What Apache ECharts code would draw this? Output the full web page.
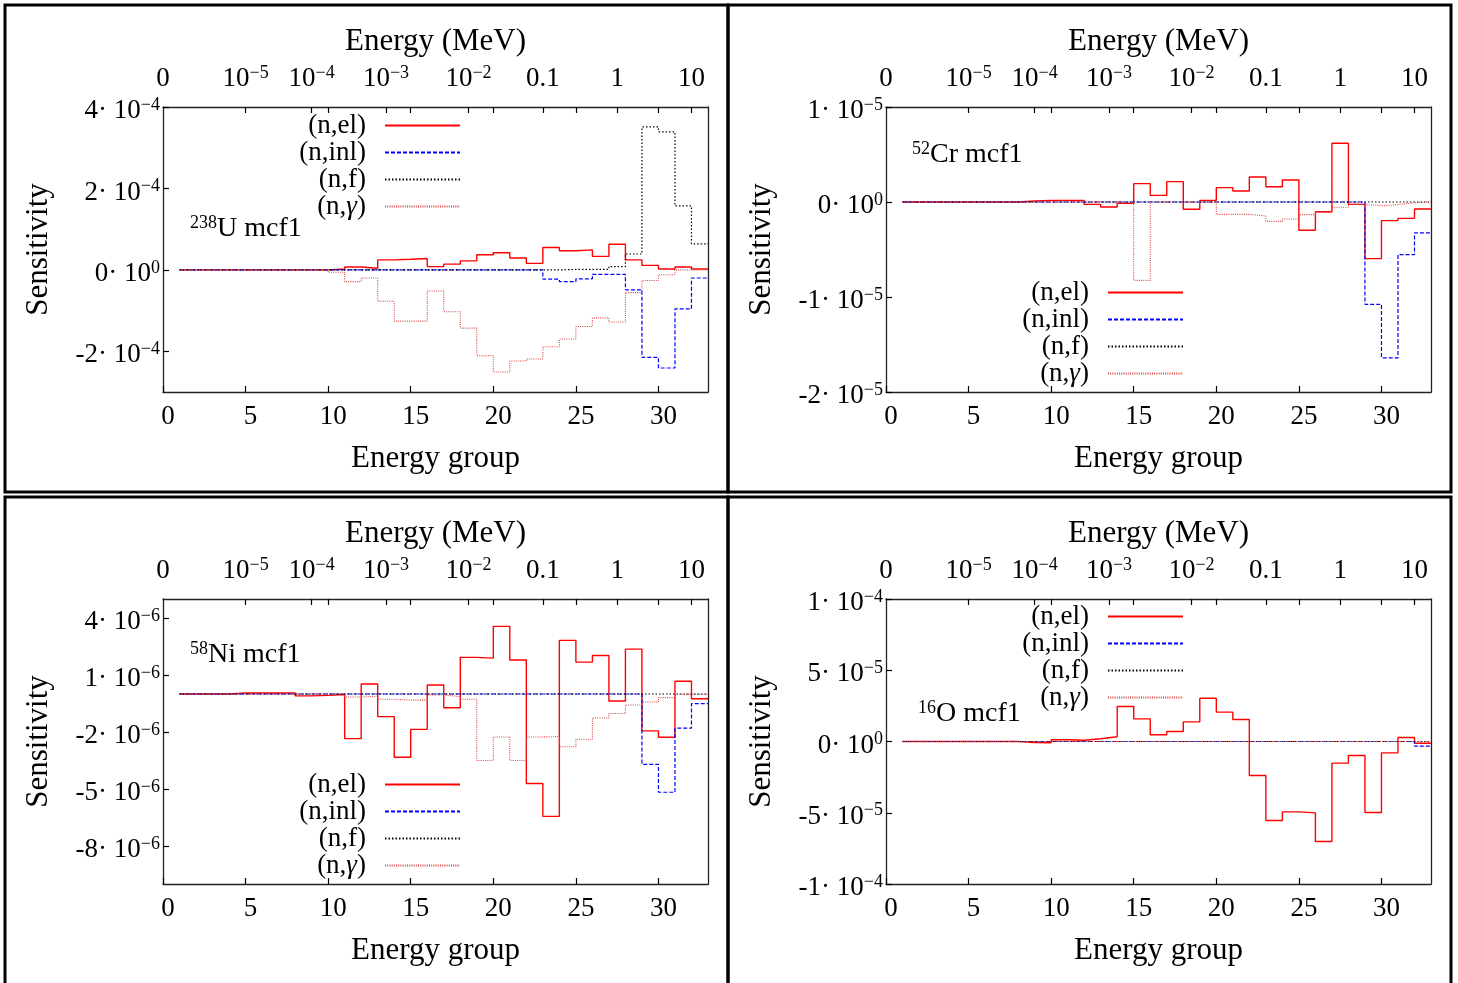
<!DOCTYPE html>
<html><head><meta charset="utf-8">
<script src="https://cdn.jsdelivr.net/npm/echarts@6/dist/echarts.min.js"></script>
<style>html,body{margin:0;padding:0;background:#fff}#c{width:1458px;height:983px}</style>
</head><body><div id="c"></div>
<script>
// energy group boundaries (bin i spans groupEdges[i-1] .. groupEdges[i])
const groupEdges = [1,2,3,4,5,6,7,8,9,10,11,12,13,14,15,16,17,18,19,20,21,22,23,24,25,26,27,28,29,30,31,32,33];
const reactions = ['(n,el)', '(n,inl)', '(n,f)', '(n,γ)'];

// top axis: energy (MeV) tick positions (group coordinate) and labels
const energyTickPos = [0, 5, 9, 13.5, 18.5, 23, 27.5, 32];
const energyTickLabels = ['0', '10^−5', '10^−4', '10^−3', '10^−2', '0.1', '1', '10'];
const groupTickPos = [0, 5, 10, 15, 20, 25, 30];

// 238U, units of 1e-4
const U238_unit = 1e-4;
const U238_el  = [0,0,0,0,0,0,0,0,0, 0.02,0.07,0.04,0.245,0.26,0.28,0.08,0.14,0.22,0.37,0.42,0.29,0.16,0.55,0.47,0.49,0.33,0.63,0.245,0.11,0.02,0.07,0.02];
const U238_inl = [0,0,0,0,0,0,0,0,0,0,0,0,0,0,0,0,0,0,0,0,0,0, -0.23,-0.29,-0.22,-0.11,-0.11,-0.49,-2.15,-2.41,-0.96,-0.20];
const U238_f   = [0,0,0,0,0,0,0,0,0,0,0,0,0,0,0,0,0,0,0,0,0,0,0, 0.01,0.01,0.01, 0.08,0.39,3.51,3.39,1.57,0.64];
const U238_g   = [0,0,0,0,0,0,0,0,0, -0.06,-0.29,-0.20,-0.77,-1.26,-1.26,-0.52,-1.03,-1.43,-2.11,-2.51,-2.24,-2.19,-1.89,-1.70,-1.39,-1.18,-1.28,-0.56,-0.26,-0.12,0,0];

// 52Cr, units of 1e-6
const Cr52_unit = 1e-6;
const Cr52_el  = [0,0,0,0,0,0,0, 0.1, 0.17,0.17,0.17, -0.25,-0.53,-0.14, 1.93,0.70,2.14,-0.77,0.17,1.51,1.16,2.63,1.61,2.32,-2.98,-1.02,6.18,-0.25,-5.96,-1.96,-1.72,-0.74];
const Cr52_inl = [0,0,0,0,0,0,0,0,0,0,0,0,0,0,0,0,0,0,0,0,0,0,0,0,0,0,0,0, -10.77,-16.4,-5.54,-3.26];
const Cr52_f   = [0,0,0,0,0,0,0,0,0,0,0,0,0,0,0,0,0,0,0,0,0,0,0,0,0,0,0,0,0,0,0,0];
const Cr52_g   = [0,0,0,0,0,0,0,0,0,0,0,0,0,0, -8.25, 0,0,0,0, -1.30,-1.30,-1.47,-2.04,-1.79,-1.33,-1.09,-0.56,-0.25,-0.39,-0.28,-0.07,0];

// 58Ni, units of 1e-6
const Ni58_unit = 1e-6;
const Ni58_el  = [0,0,0, 0.05,0.05,0.05,0.05, -0.1,-0.07,-0.03, -2.35,0.53,-1.19,-3.33,-1.86,0.47,-0.72,1.93,1.89,3.56,1.79,-4.71,-6.44,2.82,1.68,2.03,-0.37,2.36,-1.94,-2.28,0.67,-0.25];
const Ni58_inl = [0,0,0,0,0,0,0,0,0,0,0,0,0,0,0,0,0,0,0,0,0,0,0,0,0,0,0,0, -3.70,-5.17,-1.80,-0.51];
const Ni58_f   = [0,0,0,0,0,0,0,0,0,0,0,0,0,0,0,0,0,0,0,0,0,0,0,0,0,0,0,0,0,0,0,0];
const Ni58_g   = [0,0,0,0,0,0,0,0,0,0, -0.16,-0.12,-0.28,-0.32,-0.32,-0.05,-0.14,-0.28,-3.50,-2.26,-3.50,-2.26,-2.24,-2.78,-2.38,-1.26,-1.03,-0.58,-0.42,-0.19,-0.02,-0.02];

// 16O, units of 1e-5
const O16_unit = 1e-5;
const O16_el  = [0,0,0,0,0,0,0, -0.07,-0.09,0.12,0.09,0.19,0.33,2.46,1.59,0.47,0.70,1.38,3.04,2.06,1.54,-2.39,-5.54,-4.94,-5.01,-7.02,-1.52,-0.98,-4.98,-0.80,0.28,-0.12];
const O16_inl = [0,0,0,0,0,0,0,0,0,0,0,0,0,0,0,0,0,0,0,0,0,0,0,0,0,0,0,0,0,0,0, -0.33];
const O16_f   = [0,0,0,0,0,0,0,0,0,0,0,0,0,0,0,0,0,0,0,0,0,0,0,0,0,0,0,0,0,0,0,0];
const O16_g   = [0,0,0,0,0,0,0,0,0,0,0,0,0,0,0,0,0,0,0,0,0,0,0,0,0,0,0,0,0,0,0,-0.05];

const FONT = '"Liberation Serif", "DejaVu Serif", serif';

const panels = [
  { iso: '238', el: 'U', unit: U238_unit, data: [U238_el, U238_inl, U238_f, U238_g],
    yMin: -3e-4, yMax: 4e-4, yTicks: [-2e-4, 0, 2e-4, 4e-4] },
  { iso: '52', el: 'Cr', unit: Cr52_unit, data: [Cr52_el, Cr52_inl, Cr52_f, Cr52_g],
    yMin: -2e-5, yMax: 1e-5, yTicks: [-2e-5, -1e-5, 0, 1e-5] },
  { iso: '58', el: 'Ni', unit: Ni58_unit, data: [Ni58_el, Ni58_inl, Ni58_f, Ni58_g],
    yMin: -1e-5, yMax: 5e-6, yTicks: [-8e-6, -5e-6, -2e-6, 1e-6, 4e-6] },
  { iso: '16', el: 'O', unit: O16_unit, data: [O16_el, O16_inl, O16_f, O16_g],
    yMin: -1e-4, yMax: 1e-4, yTicks: [-1e-4, -5e-5, 0, 5e-5, 1e-4] }
];

// layout
const grids = [
  { left: 163, top: 107, width: 545, height: 285 },
  { left: 886, top: 107, width: 545, height: 285 },
  { left: 163, top: 599, width: 545, height: 285 },
  { left: 886, top: 599, width: 545, height: 285 }
];
const legendPos = [
  { right: 997, top: 112 }, { right: 274, top: 279 },
  { right: 997, top: 771 }, { right: 274, top: 603 }
];
const notePos = [ [190, 229], [912, 155], [190, 655], [918, 714] ];

const lineStyles = [
  { color: '#ff0000', width: 1.4, type: 'solid' },
  { color: '#0000ff', width: 1.2, type: [4, 2] },
  { color: '#000000', width: 1.2, type: [1.5, 2] },
  { color: '#d84848', width: 1.1, type: [1, 1.2] }
];

const rich = {
  m: { fontFamily: FONT, fontSize: 27, lineHeight: 30, color: '#000', verticalAlign: 'middle' },
  e: { fontFamily: FONT, fontSize: 18, lineHeight: 17, color: '#000', verticalAlign: 'top' }
};

function sciLabel(v) {
  if (Math.abs(v) < 1e-15) return '{m|0· 10}{e|0}';
  const ex = Math.floor(Math.log10(Math.abs(v)) + 1e-9);
  const man = Math.round(v / Math.pow(10, ex));
  return '{m|' + man + '· 10}{e|−' + (-ex) + '}';
}
function energyLabel(v) {
  let idx = energyTickPos.findIndex(p => Math.abs(p - v) < 1e-6);
  if (idx < 0) return '';
  const s = energyTickLabels[idx];
  if (s.indexOf('^') >= 0) {
    const parts = s.split('^');
    return '{m|' + parts[0] + '}{e|' + parts[1] + '}';
  }
  return '{m|' + s + '}';
}

const xAxes = [], yAxes = [], series = [], legends = [], graphics = [];
const axisLine = { show: true, onZero: false, lineStyle: { color: '#222', width: 1.3 } };
const nameStyle = { fontFamily: FONT, fontSize: 31, color: '#000' };

panels.forEach((p, i) => {
  xAxes.push({
    type: 'value', gridIndex: i, position: 'bottom', min: 0, max: 33,
    name: 'Energy group', nameLocation: 'middle', nameGap: 51, nameTextStyle: nameStyle,
    axisLine: axisLine,
    axisTick: { show: true, inside: true, length: 6, customValues: groupTickPos, lineStyle: { color: '#000', width: 1.2 } },
    axisLabel: { customValues: groupTickPos, margin: 11, padding: [0, 0, 0, 10], fontFamily: FONT, fontSize: 27, color: '#000' },
    splitLine: { show: false }
  });
  xAxes.push({
    type: 'value', gridIndex: i, position: 'top', min: 0, max: 33,
    name: 'Energy (MeV)', nameLocation: 'middle', nameGap: 50, nameTextStyle: nameStyle,
    axisLine: axisLine,
    axisTick: { show: true, inside: true, length: 6, customValues: [5, 9, 10, 13.5, 15, 18.5, 20, 23, 25, 27.5, 30, 32], lineStyle: { color: '#000', width: 1.2 } },
    axisLabel: { customValues: energyTickPos, margin: 13, formatter: energyLabel, rich: rich },
    splitLine: { show: false }
  });
  yAxes.push({
    type: 'value', gridIndex: i, position: 'left', min: p.yMin, max: p.yMax,
    name: 'Sensitivity', nameLocation: 'middle', nameGap: 109, nameTextStyle: nameStyle,
    axisLine: axisLine,
    axisTick: { show: true, inside: true, length: 6, customValues: p.yTicks, lineStyle: { color: '#000', width: 1.2 } },
    axisLabel: { customValues: p.yTicks, margin: 3, padding: [8, 0, 0, 0], formatter: sciLabel, rich: rich },
    splitLine: { show: false }
  });
  yAxes.push({
    type: 'value', gridIndex: i, position: 'right', min: p.yMin, max: p.yMax,
    axisLine: axisLine,
    axisTick: { show: false }, axisLabel: { show: false }, splitLine: { show: false }
  });
  p.data.forEach((vals, k) => {
    const pts = vals.map((v, j) => [groupEdges[j], v * p.unit]);
    pts.push([groupEdges[vals.length], vals[vals.length - 1] * p.unit]);
    series.push({
      type: 'line', name: reactions[k], xAxisIndex: 2 * i, yAxisIndex: 2 * i,
      data: pts, step: 'end', symbol: 'none', showSymbol: false,
      lineStyle: Object.assign({}, lineStyles[k]), itemStyle: { color: lineStyles[k].color },
      silent: true, animation: false, z: 2 + k
    });
  });
  legends.push(Object.assign({
    orient: 'vertical', align: 'right', padding: 0, itemWidth: 75, itemHeight: 10, itemGap: 0,
    selectedMode: false, data: reactions,
    itemStyle: { opacity: 0, color: 'rgba(0,0,0,0)', borderWidth: 0 },
    formatter: name => name.replace('γ', '{i|γ}'),
    textStyle: { fontFamily: FONT, fontSize: 27, lineHeight: 26.5, color: '#000', padding: [0, 14, 0, 0],
      rich: { i: { fontFamily: FONT, fontSize: 27, fontStyle: 'italic', color: '#000', lineHeight: 26.5 } } }
  }, legendPos[i]));
  graphics.push({
    type: 'text', x: notePos[i][0], y: notePos[i][1],
    style: {
      text: '{s|' + p.iso + '}{t|' + p.el + ' mcf1}', verticalAlign: 'middle',
      rich: {
        s: { fontFamily: FONT, fontSize: 18, lineHeight: 17, verticalAlign: 'top', fill: '#000' },
        t: { fontFamily: FONT, fontSize: 28, lineHeight: 30, verticalAlign: 'middle', fill: '#000' }
      }
    }
  });
});

// panel frames
[[5, 5, 723, 487], [728, 5, 723, 487], [5, 497, 723, 490], [728, 497, 723, 490]].forEach(r => {
  graphics.push({ type: 'rect', shape: { x: r[0], y: r[1], width: r[2], height: r[3] },
    style: { fill: 'none', stroke: '#000', lineWidth: 3 }, z: 100 });
});

const chart = echarts.init(document.getElementById('c'), null, { renderer: 'canvas' });
chart.setOption({
  animation: false,
  backgroundColor: '#fff',
  grid: grids,
  xAxis: xAxes,
  yAxis: yAxes,
  legend: legends,
  series: series,
  graphic: graphics
});
</script>
</body></html>
